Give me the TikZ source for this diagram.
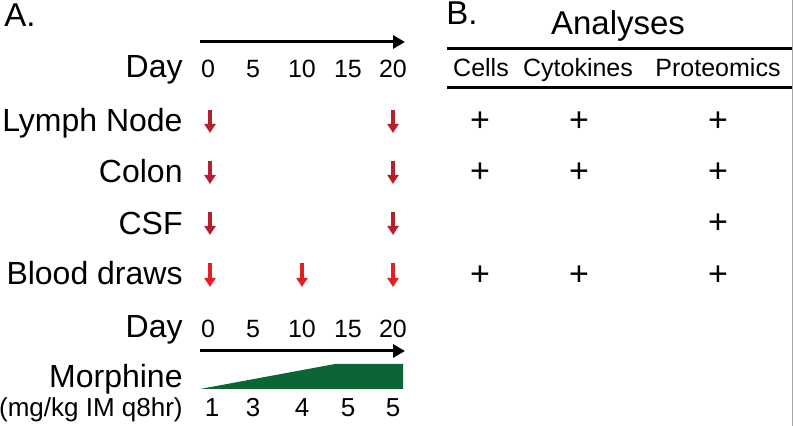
\documentclass[tikz,border=0pt]{standalone}
\usepackage{fontspec}
\setmainfont{Liberation Sans}
\usetikzlibrary{arrows.meta}

\definecolor{sampred}{RGB}{181,32,46}
\definecolor{bloodred}{RGB}{227,30,36}
\definecolor{morphgreen}{RGB}{11,101,53}

\tikzset{
 rowlabel/.style={anchor=base east,inner sep=0pt,font=\fontsize{16}{18}\selectfont},
 daynum/.style={anchor=base,inner sep=0pt,font=\fontsize{12.5}{14}\selectfont},
 dosenum/.style={anchor=base,inner sep=0pt,font=\fontsize{13}{15}\selectfont},
 colhead/.style={anchor=base,inner sep=0pt,font=\fontsize{12.5}{14}\selectfont},
 mark plus/.style={inner sep=0pt,font=\fontsize{17}{19}\selectfont},
 sample/.style={line width=1.7pt,-{Triangle[length=4.5pt,width=5.5pt]}},
 timeline/.style={line width=1.5pt,-{Triangle[length=6pt,width=6.5pt]}},
 tablerule/.style={line width=1.5pt}
}

\begin{document}
\begin{tikzpicture}[x=0.5pt,y=-0.5pt]
 \useasboundingbox (0,0) rectangle (793,426);
 \draw[gray!70,line width=0.5pt] (792,0)--(792,426);
 % panel A
 \node[anchor=base west,inner sep=0pt,font=\fontsize{16.5}{19}\selectfont] (lblA) at (4,27) {A.};
 \coordinate (tl1s) at (200,42); \coordinate (tl1e) at (405,42);
 \draw[timeline] (tl1s)--(tl1e);
 \node[rowlabel] (day1) at (183,78) {Day};
 \foreach \x/\d in {208/0,253/5,302/10,348/15,393/20}
  \node[daynum] (dA\d) at (\x,78) {\d};
 \node[rowlabel] (lymph) at (183,132) {Lymph Node};
 \node[rowlabel] (colon) at (183,183) {Colon};
 \node[rowlabel] (csf) at (183,235) {CSF};
 \node[rowlabel] (blood) at (183,285) {Blood draws};
 % sampling arrows
 \foreach \y/\n in {110/ln,161/co,212/cs}{
  \draw[sample,sampred] (210,\y) coordinate (\n0) -- ++(0,23);
  \draw[sample,sampred] (393,\y) coordinate (\n20) -- ++(0,23);
 }
 \foreach \x/\d in {210/0,302/10,393/20}
  \draw[sample,bloodred] (\x,263) coordinate (bd\d) -- ++(0,24);
 \node[rowlabel] (day2) at (183,338) {Day};
 \foreach \x/\d in {208/0,253/5,302/10,348/15,393/20}
  \node[daynum] (dB\d) at (\x,338) {\d};
 \coordinate (tl2s) at (200,351); \coordinate (tl2e) at (405,351);
 \draw[timeline] (tl2s)--(tl2e);
 \fill[morphgreen] (200,389)--(335,364)--(403,364)--(403,389)--cycle;
 \node[rowlabel] (morph) at (183,388) {Morphine};
 \node[anchor=base east,inner sep=0pt,font=\fontsize{13}{15}\selectfont] (unit) at (183,417) {(mg/kg IM q8hr)};
 \foreach \x/\m [count=\i] in {212/1,253/3,302/4,348/5,393/5}
  \node[dosenum] (dose\i) at (\x,417) {\m};
 % panel B
 \node[anchor=base west,inner sep=0pt,font=\fontsize{16.5}{19}\selectfont] (lblB) at (446,25) {B.};
 \node[anchor=base,inner sep=0pt,font=\fontsize{16.5}{19}\selectfont] (analyses) at (618,35) {Analyses};
 \coordinate (r1s) at (447,49); \coordinate (r1e) at (792,49);
 \coordinate (r2s) at (447,88); \coordinate (r2e) at (792,88);
 \draw[tablerule] (r1s)--(r1e);
 \draw[tablerule] (r2s)--(r2e);
 \node[colhead] (cells) at (481,77) {Cells};
 \node[colhead] (cyto) at (578,77) {Cytokines};
 \node[colhead] (prot) at (718,77) {Proteomics};
 \foreach \y/\n in {122/ln,173/co,276/bd}{
  \node[mark plus] (p\n1) at (480,\y) {+};
  \node[mark plus] (p\n2) at (579,\y) {+};
  \node[mark plus] (p\n3) at (718,\y) {+};
 }
 \node[mark plus] (pcs3) at (718,224) {+};
\end{tikzpicture}
\end{document}
